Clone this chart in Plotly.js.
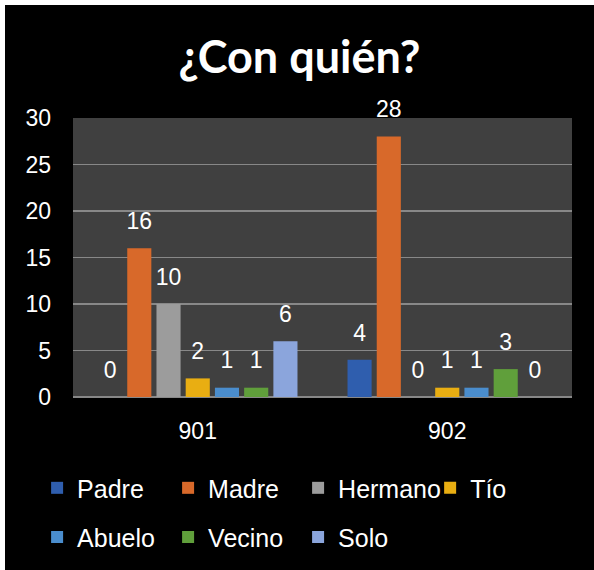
<!DOCTYPE html>
<html>
<head>
<meta charset="utf-8">
<script src="https://cdn.plot.ly/plotly-3.0.1.min.js"></script>
<style>
  html, body { margin: 0; padding: 0; background: #ffffff; }
  #chart { position: absolute; left: 5px; top: 5px; width: 589px; height: 565px; }
</style>
</head>
<body>
<div id="chart"></div>
<script>
const groups = ['901', '902'];
const seriesNames = ['Padre', 'Madre', 'Hermano', 'Tío', 'Abuelo', 'Vecino', 'Solo'];
const padre   = [0, 4];
const madre   = [16, 28];
const hermano = [10, 0];
const tio     = [2, 1];
const abuelo  = [1, 1];
const vecino  = [1, 3];
const solo    = [6, 0];
const seriesValues = [padre, madre, hermano, tio, abuelo, vecino, solo];
const seriesColors = ['#2f5eae', '#d8692a', '#9c9c9c', '#e9ae12', '#4a8dcd', '#609f3b', '#8ba5dc'];
const yTicks = [0, 5, 10, 15, 20, 25, 30];

const labelFont = { family: 'Liberation Sans, Arial, sans-serif', size: 23, color: '#ffffff' };
const legendIds = ['legend', 'legend2', 'legend3', 'legend4', 'legend5', 'legend6', 'legend7'];
const legendCols = [0.0545, 0.2769, 0.4976, 0.7218, 0.0545, 0.2769, 0.4976];
const legendRows = [0.145, 0.145, 0.145, 0.145, 0.058, 0.058, 0.058];

const bars = seriesNames.map((name, i) => ({
  type: 'bar',
  name: name,
  x: groups,
  y: seriesValues[i],
  offsetgroup: 'g' + i,
  marker: { color: seriesColors[i], line: { width: 0 } },
  legend: legendIds[i],
  hoverinfo: 'skip'
}));

const labels = seriesNames.map((name, i) => ({
  type: 'scatter',
  mode: 'markers+text',
  orientation: 'v',
  offsetgroup: 'g' + i,
  x: groups,
  y: seriesValues[i],
  text: seriesValues[i].map(String),
  textposition: 'top center',
  textfont: labelFont,
  marker: { size: 20, color: 'rgba(0,0,0,0)' },
  cliponaxis: false,
  showlegend: false,
  hoverinfo: 'skip'
}));

const layout = {
  width: 589, height: 565,
  paper_bgcolor: '#000000',
  plot_bgcolor: '#404040',
  margin: { l: 68, r: 22, t: 113, b: 173 },
  title: {
    text: '¿Con quién?',
    font: { family: 'Lato, sans-serif', size: 45, color: '#ffffff', weight: 700 },
    x: 0.5, xref: 'container', xanchor: 'center',
    y: 0.907, yref: 'container', yanchor: 'middle'
  },
  barmode: 'group',
  bargap: 0.18,
  bargroupgap: 0.175,
  scattermode: 'group',
  scattergap: 0.18,
  xaxis: {
    type: 'category',
    showgrid: false,
    zeroline: false,
    showline: false,
    ticks: '',
    ticklabelstandoff: 18,
    tickfont: labelFont
  },
  yaxis: {
    range: [0, 30],
    tickvals: yTicks,
    ticktext: yTicks.map(String),
    showgrid: true,
    gridcolor: '#888888',
    gridwidth: 1.5,
    zeroline: true,
    zerolinecolor: '#888888',
    zerolinewidth: 1.5,
    showline: false,
    ticks: '',
    ticklabelstandoff: 21,
    tickfont: labelFont
  },
  showlegend: true
};

legendIds.forEach((id, i) => {
  layout[id] = {
    orientation: 'h',
    xref: 'container', yref: 'container',
    x: legendCols[i], xanchor: 'left',
    y: legendRows[i], yanchor: 'middle',
    bgcolor: 'rgba(0,0,0,0)',
    font: { family: 'Liberation Sans, Arial, sans-serif', size: 25, color: '#ffffff' }
  };
});

Plotly.newPlot('chart', bars.concat(labels), layout, { displayModeBar: false, staticPlot: true });
</script>
</body>
</html>
